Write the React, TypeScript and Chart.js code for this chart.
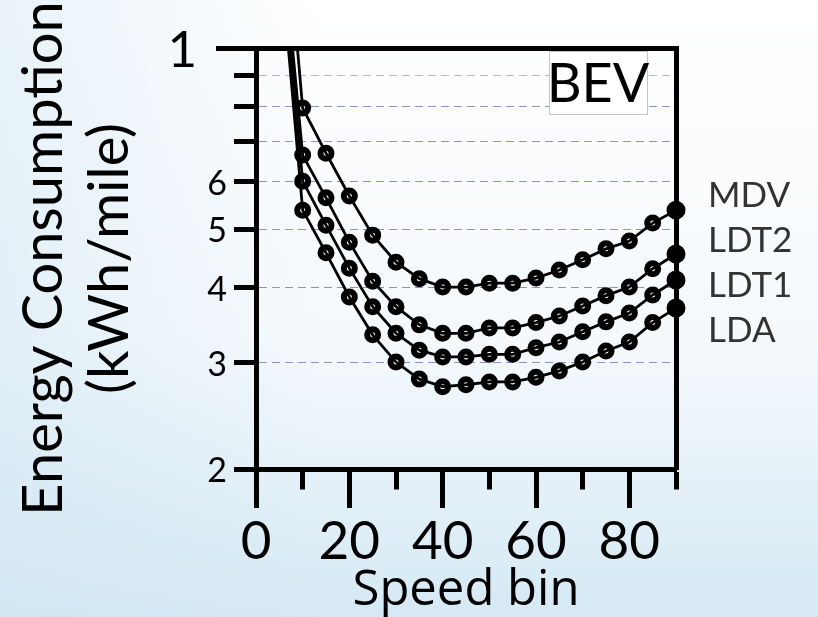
import { useEffect, useRef } from 'react';
import { Chart, registerables } from 'chart.js';

Chart.register(...registerables);

// Speed bins (mph) and energy consumption (kWh/mile) per vehicle class
const speedBins = [5, 10, 15, 20, 25, 30, 35, 40, 45, 50, 55, 60, 65, 70, 75, 80, 85, 90];
const seriesNames = ['MDV', 'LDT2', 'LDT1', 'LDA'];
const mdvValues = [22.0, 7.95, 6.69, 5.68, 4.89, 4.41, 4.14, 4.01, 4.01, 4.07, 4.07, 4.15, 4.28, 4.45, 4.64, 4.78, 5.12, 5.38];
const ldt2Values = [17.0, 6.64, 5.64, 4.76, 4.10, 3.72, 3.47, 3.36, 3.36, 3.43, 3.43, 3.50, 3.59, 3.73, 3.88, 4.01, 4.30, 4.55];
const ldt1Values = [15.8, 6.01, 5.08, 4.31, 3.72, 3.36, 3.15, 3.07, 3.07, 3.10, 3.10, 3.18, 3.25, 3.38, 3.51, 3.63, 3.89, 4.12];
const ldaValues = [14.8, 5.38, 4.57, 3.86, 3.34, 3.01, 2.82, 2.74, 2.76, 2.79, 2.79, 2.84, 2.91, 3.01, 3.14, 3.25, 3.50, 3.70];

const xTickValues = [0, 10, 20, 30, 40, 50, 60, 70, 80, 90];
const xTickLabels = ['0', '', '20', '', '40', '', '60', '', '80', ''];
const yTickValues = [2, 3, 4, 5, 6, 7, 8, 9, 10];
const yTickLabels = ['2', '3', '4', '5', '6', '', '', '', '1'];
const panelTag = 'BEV';
const xTitle = 'Speed bin';
const yTitle = ['Energy Consumption', '(kWh/mile)'];

const FONT = 'Lato, "Open Sans", sans-serif';
const TITLE_FONT = '"Open Sans", Lato, sans-serif';

const backdrop = {
  id: 'backdrop',
  beforeDraw(chart: any) {
    const { ctx, width, height } = chart;
    ctx.save();
    const g = ctx.createLinearGradient(0, 0, 0, height);
    g.addColorStop(0, '#ffffff');
    g.addColorStop(0.55, '#f5f9fc');
    g.addColorStop(1, '#d5e9f4');
    ctx.fillStyle = g;
    ctx.fillRect(0, 0, width, height);
    const h = ctx.createLinearGradient(0, 0, 320, 0);
    h.addColorStop(0, 'rgba(205,228,242,0.45)');
    h.addColorStop(1, 'rgba(205,228,242,0)');
    ctx.fillStyle = h;
    ctx.fillRect(0, 0, width, height);
    ctx.restore();
  },
};

const annotations = {
  id: 'annotations',
  beforeDatasetsDraw(chart: any) {
    const { ctx, chartArea: a } = chart;
    ctx.save();
    const bw = 98;
    const bh = 63;
    const bx = a.right - 127;
    const by = a.top + 3;
    ctx.fillStyle = '#ffffff';
    ctx.fillRect(bx, by, bw, bh);
    ctx.strokeStyle = '#c4c4c4';
    ctx.lineWidth = 1;
    ctx.strokeRect(bx + 0.5, by + 0.5, bw, bh);
    ctx.fillStyle = '#000';
    ctx.font = `54px ${FONT}`;
    ctx.textAlign = 'center';
    ctx.textBaseline = 'alphabetic';
    ctx.fillText(panelTag, bx + bw / 2, by + 51);
    ctx.restore();
  },
  afterDraw(chart: any) {
    const { ctx, chartArea: a, scales } = chart;
    ctx.save();
    ctx.fillStyle = '#000';
    ctx.textAlign = 'right';
    ctx.textBaseline = 'alphabetic';
    // value labels of the log axis; the decade label sits left of the long tick
    yTickValues.forEach((v, i) => {
      const text = yTickLabels[i];
      if (!text) return;
      const py = scales.y.getPixelForValue(v);
      if (v === 10) {
        ctx.font = `51px ${FONT}`;
        ctx.fillText(text, a.left - 59, py + 19);
      } else {
        ctx.font = `34px ${FONT}`;
        ctx.fillText(text, a.left - 29, py + 13);
      }
    });
    // series names at the right edge
    ctx.fillStyle = '#333';
    ctx.font = `35px ${FONT}`;
    ctx.textAlign = 'left';
    seriesNames.forEach((name, i) => {
      ctx.fillText(name, a.right + 32, a.top + 159 + i * 45);
    });
    ctx.restore();
  },
};

const allValues = [mdvValues, ldt2Values, ldt1Values, ldaValues];
const lastIdx = speedBins.length - 1;
const clip = { left: 0, top: 0, right: false, bottom: 0 };

function buildDatasets() {
  const out: any[] = [];
  allValues.forEach((vals, k) => {
    const data = speedBins.map((s, i) => ({ x: s, y: vals[i] }));
    out.push({
      label: seriesNames[k] + ' line',
      data,
      borderColor: '#000',
      borderWidth: 2.8,
      pointRadius: 0,
      tension: 0,
      order: 0,
      clip,
    });
    out.push({
      label: seriesNames[k],
      data,
      showLine: false,
      pointRadius: speedBins.map((_, i) => (i === 0 ? 0 : i === lastIdx ? 8.5 : 5.5)),
      pointBorderWidth: speedBins.map((_, i) => (i === lastIdx ? 2 : 6)),
      pointBackgroundColor: speedBins.map((_, i) => (i === lastIdx ? '#000' : '#fff')),
      pointBorderColor: '#000',
      order: 1,
      clip,
    });
  });
  return out;
}

export default function App() {
  const ref = useRef<HTMLCanvasElement | null>(null);

  useEffect(() => {
    if (!ref.current) return;
    const chart = new Chart(ref.current, {
      type: 'line',
      data: { datasets: buildDatasets() },
      plugins: [backdrop, annotations],
      options: {
        responsive: false,
        maintainAspectRatio: false,
        animation: false,
        devicePixelRatio: 1,
        events: [],
        layout: { padding: { left: 0, top: 48, right: 142, bottom: 0 } },
        plugins: { legend: { display: false }, tooltip: { enabled: false } },
        scales: {
          x: {
            type: 'linear',
            position: 'bottom',
            min: 0,
            max: 90,
            afterBuildTicks: (s: any) => {
              s.ticks = xTickValues.map((v) => ({ value: v }));
            },
            afterFit: (s: any) => {
              s.height = 148;
            },
            border: { display: true, color: '#000', width: 5 },
            grid: {
              drawOnChartArea: false,
              drawTicks: true,
              tickLength: 39,
              tickWidth: 5,
              tickColor: '#000',
              tickBorderDash: (c: any) =>
                xTickLabels[xTickValues.indexOf(c.tick?.value)] ? [] : [17.5, 100],
            },
            ticks: {
              autoSkip: false,
              maxRotation: 0,
              padding: 2,
              color: '#000',
              font: { family: FONT, size: 53 },
              callback: (v: any) => xTickLabels[xTickValues.indexOf(Number(v))] ?? '',
            },
            title: {
              display: true,
              text: xTitle,
              color: '#000',
              font: { family: TITLE_FONT, size: 49, lineHeight: 1.2 },
              padding: { top: 0, bottom: -3 },
            },
          },
          x2: {
            type: 'linear',
            position: 'top',
            min: 0,
            max: 90,
            afterFit: (s: any) => {
              s.height = 0;
            },
            grid: { display: false },
            ticks: { display: false },
            border: { display: true, color: '#000', width: 5 },
          },
          y: {
            type: 'logarithmic',
            position: 'left',
            min: 2,
            max: 10,
            afterBuildTicks: (s: any) => {
              s.ticks = yTickValues.map((v) => ({ value: v }));
            },
            afterFit: (s: any) => {
              s.width = 256;
            },
            border: { display: true, color: '#000', width: 5, dash: [8, 5] },
            grid: {
              lineWidth: 1,
              color: (c: any) => {
                const v = c.tick?.value;
                if (v === 2 || v === 10) return 'rgba(0,0,0,0)';
                if (v === 9) return '#b6b6c8';
                return '#9090c8';
              },
              tickLength: 40,
              tickWidth: 5,
              tickColor: '#000',
              tickBorderDash: (c: any) => (c.tick?.value === 10 ? [] : [0, 18, 20, 100]),
            },
            ticks: {
              color: '#000',
              font: { family: FONT, size: 34 },
              callback: () => '',
            },
            title: {
              display: true,
              text: yTitle,
              color: '#000',
              font: { family: FONT, size: 56, lineHeight: 1.18 },
              padding: { top: 11, bottom: 0 },
            },
          },
          y2: {
            type: 'logarithmic',
            position: 'right',
            min: 2,
            max: 10,
            afterFit: (s: any) => {
              s.width = 0;
            },
            grid: { display: false },
            ticks: { display: false },
            border: { display: true, color: '#000', width: 5 },
          },
        },
      } as any,
    });
    return () => chart.destroy();
  }, []);

  return (
    <div style={{ position: 'absolute', left: 0, top: 0, width: 818, height: 617 }}>
      <canvas ref={ref} width={818} height={617} style={{ display: 'block' }} />
    </div>
  );
}
